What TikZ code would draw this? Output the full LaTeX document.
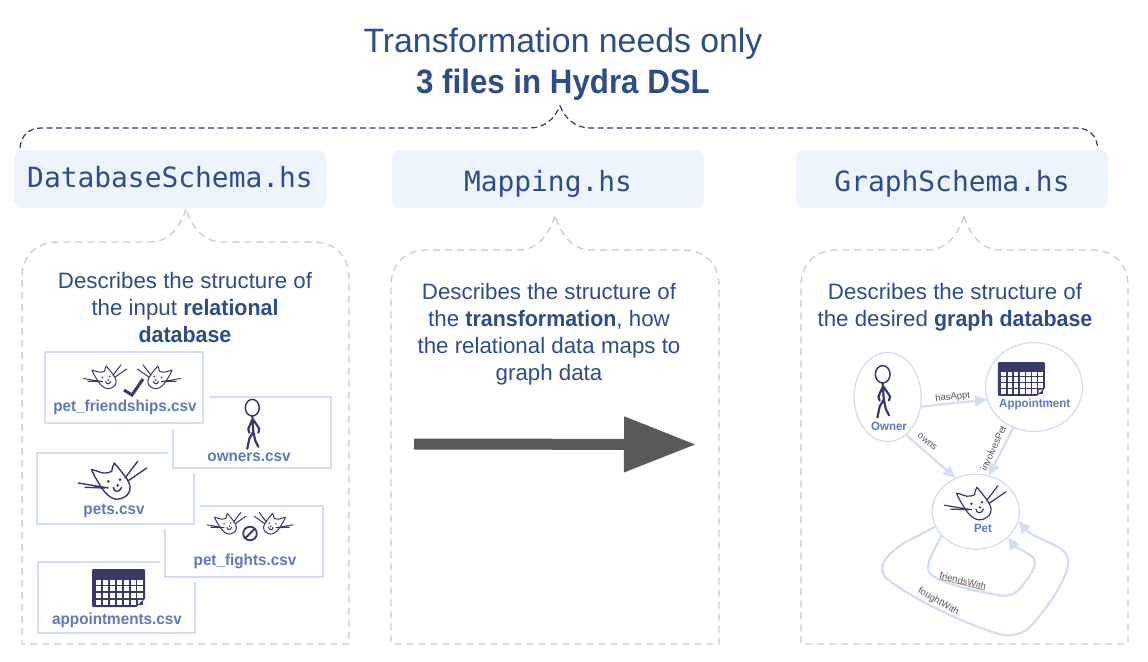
\documentclass[tikz,border=0pt]{standalone}
\usepackage{fontspec}
\setmainfont{Liberation Sans}[BoldFeatures={FakeStretch=.96}]
\setmonofont{DejaVu Sans Mono}
\newfontfamily\titlebold{Liberation Sans Bold}[FakeStretch=.925]
\usetikzlibrary{arrows.meta,shapes.geometric}
\definecolor{navy}{HTML}{2D4D8A}
\definecolor{ink}{HTML}{3A3A6A}
\definecolor{hdr}{HTML}{EDF4FE}
\definecolor{pale}{HTML}{D3DEF2}
\definecolor{csv}{HTML}{6079B8}
\definecolor{dashgray}{HTML}{CCCCCC}
\definecolor{braceink}{HTML}{2C3E6B}
\definecolor{arrowgray}{HTML}{595959}
\tikzset{
  header/.style={fill=hdr,rounded corners=8pt,minimum width=312pt,minimum height=58pt,inner sep=0pt,text=navy,font=\ttfamily\fontsize{27.9}{30}\selectfont,text height=#1,text depth=4pt},
  panel/.style={draw=dashgray,line width=1.3pt,dash pattern=on 7pt off 5pt},
  bracetop/.style={draw=braceink,line width=1.2pt,dash pattern=on 6pt off 3.5pt},
  body/.style={text=navy,align=center,font=\fontsize{22.3}{27}\selectfont,inner sep=0pt},
  filebox/.style={draw=pale,line width=2pt,fill=white,preaction={draw=white,line width=11pt},minimum width=#1,minimum height=71pt,inner sep=0pt},
  filelabel/.style={text=csv,font=\bfseries\fontsize{15.9}{18}\selectfont,inner sep=0pt,anchor=base},
  entity/.style={draw=pale,line width=1.3pt,fill=white,shape=ellipse,inner sep=0pt},
  entitylabel/.style={text=csv,font=\bfseries\fontsize{12}{14}\selectfont,inner sep=0pt,anchor=base},
  rel/.style={draw=pale,line width=2.2pt,-{Triangle[length=12pt,width=11pt]},line join=round},
  rellabel/.style={text=black!65,font=\fontsize{9.5}{11}\selectfont,inner sep=0pt},
  pics/catface/.style={code={
    \draw[ink,line join=round,line cap=round] (-18.3,-13.6) .. controls (-13,-13) and (-10,-10.5) .. (-6.7,-10.3) .. controls (-3,-10) and (0,-11) .. (1.7,-12) .. controls (2,-15) and (3,-18) .. (4.3,-20.3) .. controls (8,-16) and (12,-11) .. (15,-7) .. controls (18,-3) and (20,1) .. (20,4) .. controls (20,8) and (19,10) .. (17,12) .. controls (13,15) and (10,16) .. (7,16) .. controls (3,16) and (-1,13) .. (-4,10) .. controls (-8,6) and (-11,0) .. (-13.3,-3.6) .. controls (-15.5,-7) and (-17,-10) .. cycle;
    \draw[ink,line cap=round] (15,-5.3) -- (27.7,-22) (18.3,-2.6) -- (36.7,-15.3) (-31.7,-.3) -- (-1.7,4.7) (-25,4) -- (-5,4.7);
    \fill[ink] (-1.7,-2) circle (1.5) (10,-3.6) circle (1.5) (7.7,2) circle (1.5);
    \draw[ink,line cap=round] (3.3,4) .. controls (4,9) and (9,10) .. (11.7,4);
  }},
  pics/stickman/.style={code={
    \draw[ink,line width=1.5pt] (0,0) ellipse (7 and 8.3);
    \draw[ink,line width=2.2pt,line cap=round,line join=round] (0,8.3) -- (1,24) -- (-3,31) -- (-5,41) (1,24) -- (3,33) -- (6,39) (0,12) -- (-4,21) -- (-3,25) (1,12) -- (7,21) -- (6,25);
  }},
  pics/calendarpage/.style={code={
    \fill[ink,rounded corners=1pt] (-26.5,-19) -- (26.5,-19) -- (26.5,11) -- (18,19) -- (-26.5,19) -- cycle;
    \foreach \cy in {0,1,2,3} \foreach \cx in {0,...,6} {
      \fill[white] (-22.5+\cx*6.9,-8.3+\cy*6.6) rectangle ++(5.4,5);
    }
    \fill[ink] (18.9,11.5) rectangle (24.5,16.8);
    \fill[white] (19.6,16.4) -- (24.3,12) -- (19.6,12) -- cycle;
  }}
}
\begin{document}
\begin{tikzpicture}[x=1pt,y=-1pt]
\useasboundingbox (0,0) rectangle (1148,661);
\fill[white] (0,0) rectangle (1148,661);

\node[text=navy,font=\fontsize{33.8}{41}\selectfont,align=center,inner sep=0pt] (title) at (563,64) {Transformation needs only\\[0pt]{\titlebold 3 files in Hydra DSL}};

\coordinate (tip) at (560,106);
\draw[bracetop] (20,148) .. controls (21,136) and (28,128) .. (42,128) -- (530,128) .. controls (545,128) and (555,118) .. (tip) .. controls (565,118) and (575,128) .. (590,128) -- (1076,128) .. controls (1090,128) and (1097,136) .. (1098,150);

\node[header=20pt] (dbh) at (170,179) {DatabaseSchema.hs};
\node[header=28pt] (maph) at (548,179) {Mapping.hs};
\node[header=28pt] (grh) at (952,179) {GraphSchema.hs};

\draw[panel] (186,209) .. controls (180,228) and (168,242) .. (150,242) -- (58,242) .. controls (36,242) and (22,256) .. (22,278) -- (22,644) -- (349,644) -- (349,278) .. controls (349,256) and (335,242) .. (313,242) -- (222,242) .. controls (204,242) and (192,228) .. (186,209);
\draw[panel] (555,216) .. controls (549,235) and (537,250) .. (519,250) -- (427,250) .. controls (405,250) and (391,264) .. (391,286) -- (391,644) -- (719,644) -- (719,286) .. controls (719,264) and (705,250) .. (683,250) -- (591,250) .. controls (573,250) and (561,235) .. (555,216);
\draw[panel] (964,216) .. controls (958,235) and (946,250) .. (928,250) -- (837,250) .. controls (815,250) and (801,264) .. (801,286) -- (801,644) -- (1128,644) -- (1128,286) .. controls (1128,264) and (1114,250) .. (1092,250) -- (1000,250) .. controls (982,250) and (970,235) .. (964,216);

\node[body] (dbtext) at (185,308) {Describes the structure of\\the input \textbf{relational}\\\textbf{database}};
\node[body] (maptext) at (549,334) {Describes the structure of\\the \textbf{transformation}, how\\the relational data maps to\\graph data};
\node[body] (grtext) at (955,307) {Describes the structure of\\the desired \textbf{graph database}};

% csv cards
\node[filebox=157pt] (fappt) at (116.5,597) {};
\node[filebox=158pt] (ffight) at (244,541) {};
\node[filebox=157pt] (fpets) at (115.5,488) {};
\node[filebox=158pt] (fowner) at (252,432) {};
\node[filebox=158pt] (ffriend) at (124,387.5) {};

\pic[scale=.63,line width=1pt] at (103.5,378.7) {catface};
\pic[xscale=-.63,yscale=.63,line width=1pt] at (160.5,378.7) {catface};
\draw[ink,line width=3pt,line join=miter] (124,390) -- (132,395) -- (143,379);
\node[filelabel] (lfriend) at (125,411) {pet\_friendships.csv};

\pic at (252.3,407.7) {stickman};
\node[filelabel] (lowner) at (249,461.5) {owners.csv};

\pic[line width=1.4pt] at (110,483.3) {catface};
\node[filelabel] (lpets) at (114,514) {pets.csv};

\pic[scale=.57,line width=1pt] at (225,525) {catface};
\pic[xscale=-.57,yscale=.57,line width=1pt] at (275,525) {catface};
\coordinate (nosign) at (250,533.5);
\draw[ink,line width=1.8pt] (nosign) circle (6.8);
\draw[ink,line width=1.8pt] (nosign) ++(-4.5,4.5) -- ++(9,-9);
\node[filelabel] (lfight) at (245,565) {pet\_fights.csv};

\pic at (118.5,588) {calendarpage};
\node[filelabel] (lappt) at (117,624) {appointments.csv};

% main arrow
\coordinate (arrowstart) at (414,444);
\coordinate (arrowend) at (696,444.5);
\draw[draw=arrowgray,line width=11pt,-{Triangle[length=72pt,width=53pt,fill=arrowgray]}] (arrowstart) -- (arrowend);

% graph
\node[entity,minimum width=67pt,minimum height=89pt] (owner) at (887.7,397) {};
\node[entity,minimum width=97pt,minimum height=89pt] (appt) at (1034,387) {};
\node[entity,minimum width=87pt,minimum height=75pt] (pet) at (975.7,511.7) {};

\pic[scale=1.05] at (882.7,374.3) {stickman};
\pic[scale=.885] at (1021.3,379) {calendarpage};
\pic[scale=.9,line width=1.2pt] at (973,505.5) {catface};
\node[entitylabel] (lo) at (889,430) {Owner};
\node[entitylabel] (la) at (1034.7,407.7) {Appointment};
\node[entitylabel] (lp) at (983,532.7) {Pet};

\draw[rel] (owner.-16) -- (appt.195);
\draw[rel] (owner.-64) -- (pet.121);
\draw[rel] (appt.243) -- (pet.70);
\draw[rel] (pet.215) .. controls (935,550) and (925,562) .. (929,572) .. controls (935,582) and (970,590) .. (1000,595.5) .. controls (1015,597) and (1020,590) .. (1030,575) .. controls (1037,565) and (1036,558) .. (1030,555) .. controls (1022,550) and (1014,546) .. (pet.-38);
\draw[rel] (pet.200) .. controls (915,538) and (905,541) .. (897,548) .. controls (885,557) and (878,567) .. (885,577) .. controls (905,595) and (965,625) .. (1003,635) .. controls (1018,636) and (1025,632) .. (1032,625) .. controls (1045,610) and (1060,590) .. (1067,570) .. controls (1070,560) and (1068,553) .. (1058,547) .. controls (1045,540) and (1030,535) .. (pet.-12);

\node[rellabel,rotate=5] (ha) at (952.7,397.3) {hasAppt};
\node[rellabel,rotate=-40] (ow) at (927.3,442) {owns};
\node[rellabel,rotate=65] (ip) at (993.3,448.3) {involvesPet};
\node[rellabel,rotate=-14] (fr) at (963,581) {friendsWith};
\node[rellabel,rotate=-30] (fo) at (938.3,601.7) {foughtWith};
\draw[red!55!black!60,line width=.6pt] (fr.south west) -- (fr.south east);
\end{tikzpicture}
\end{document}
